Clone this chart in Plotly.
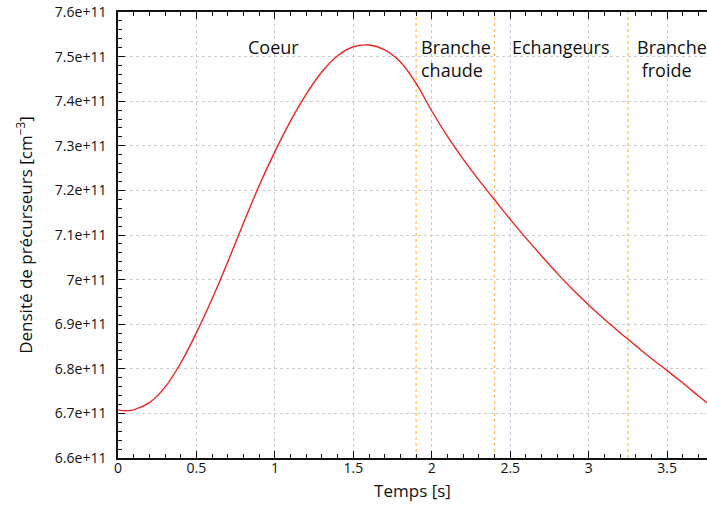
import plotly.graph_objects as go

# Curve (time in s, density in 1e11 cm^-3)
temps = [0.0, 0.05, 0.1, 0.2, 0.3, 0.4, 0.5, 0.6, 0.7, 0.8, 0.9,
         1.0, 1.1, 1.2, 1.3, 1.4, 1.5, 1.6, 1.7, 1.8, 1.9,
         2.0, 2.1, 2.2, 2.3, 2.4, 2.5, 2.6, 2.7, 2.8, 2.9,
         3.0, 3.1, 3.2, 3.3, 3.4, 3.5, 3.6, 3.7, 3.754]
densite_e11 = [6.708, 6.706, 6.708, 6.724, 6.759, 6.813, 6.881, 6.957, 7.040, 7.127, 7.211,
               7.287, 7.356, 7.416, 7.466, 7.502, 7.522, 7.526, 7.515, 7.488, 7.440,
               7.378, 7.321, 7.270, 7.223, 7.179, 7.135, 7.093, 7.053, 7.014, 6.977,
               6.943, 6.911, 6.881, 6.852, 6.823, 6.796, 6.768, 6.739, 6.724]
densite = [v * 1e11 for v in densite_e11]

# Region boundaries (s)
frontieres = [1.9, 2.4, 3.25]

# Region labels
regions = ["Coeur", "Branche<br>chaude", "Echangeurs", "Branche<br>\u00a0froide"]
regions_x = [0.99, 1.92, 2.5, 3.295]

# Tick labels
y_ticks = [6.6e11, 6.7e11, 6.8e11, 6.9e11, 7.0e11, 7.1e11, 7.2e11, 7.3e11, 7.4e11, 7.5e11, 7.6e11]
y_ticktext = ["6.6e+11", "6.7e+11", "6.8e+11", "6.9e+11", "7e+11", "7.1e+11",
              "7.2e+11", "7.3e+11", "7.4e+11", "7.5e+11", "7.6e+11"]
x_ticks = [0, 0.5, 1, 1.5, 2, 2.5, 3, 3.5]
x_ticktext = ["0", "0.5", "1", "1.5", "2", "2.5", "3", "3.5"]

FONT = "Open Sans"

fig = go.Figure()
fig.add_trace(go.Scatter(x=temps, y=densite, mode="lines",
                         line=dict(color="#ee2222", width=1.4, shape="spline", smoothing=1.0),
                         showlegend=False, hoverinfo="x+y"))

for xv in frontieres:
    fig.add_shape(type="line", xref="x", yref="paper", x0=xv, x1=xv, y0=0, y1=1,
                  line=dict(color="#ffc05a", width=1.3, dash="dot"), layer="below")

for txt, xv in zip(regions, regions_x):
    fig.add_annotation(x=xv, y=0.952, xref="x", yref="paper", text=txt, showarrow=False,
                       xanchor="center" if txt == "Coeur" else "left", yanchor="top",
                       align="left", font=dict(family=FONT, size=18, color="#111"))

fig.update_layout(
    width=707, height=509,
    margin=dict(l=118, r=0, t=12, b=51, autoexpand=False),
    plot_bgcolor="white", paper_bgcolor="white",
    font=dict(family=FONT, size=14, color="#111"),
    xaxis=dict(range=[0, 3.754], tickvals=x_ticks, ticktext=x_ticktext, automargin=False,
               showline=True, linecolor="#111", linewidth=1.5, mirror="allticks",
               ticks="inside", ticklen=7, tickcolor="#111", ticklabelstandoff=-4,
               ticklabeloverflow="allow",
               minor=dict(ticks="inside", dtick=0.1, tick0=0, ticklen=4, tickcolor="#111", showgrid=False),
               showgrid=True, gridcolor="#cccccc", griddash="dot", gridwidth=1,
               zeroline=False,
               title=dict(text="Temps [s]", font=dict(size=17, family=FONT), standoff=10)),
    yaxis=dict(range=[6.6e11, 7.6e11], tickvals=y_ticks, ticktext=y_ticktext, automargin=False,
               showline=True, linecolor="#111", linewidth=1.5, mirror=False,
               ticks="inside", ticklen=7, tickcolor="#111", ticklabelstandoff=7,
               ticklabeloverflow="allow",
               minor=dict(ticks="inside", dtick=0.02e11, tick0=6.6e11, ticklen=4, tickcolor="#111", showgrid=False),
               showgrid=True, gridcolor="#cccccc", griddash="dot", gridwidth=1,
               zeroline=False,
               title=dict(text="Densité de précurseurs [cm<sup>−3</sup>]", font=dict(size=17, family=FONT), standoff=18)),
)

fig.write_html("out.html", config={"displayModeBar": False},
               post_script="document.body.style.margin='0';document.body.style.overflow='hidden';")
